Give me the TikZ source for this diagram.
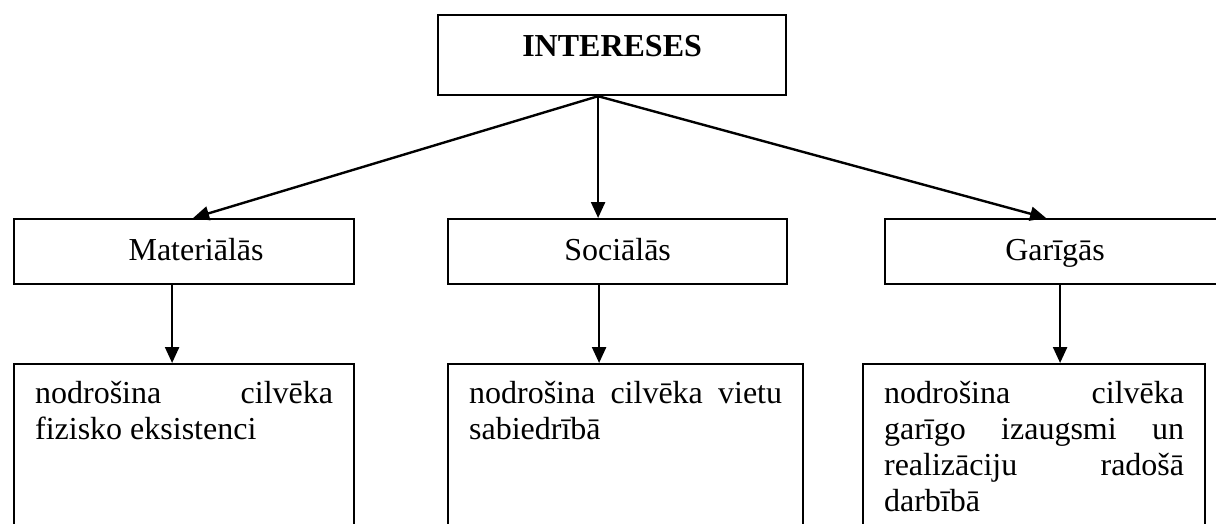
\documentclass[tikz,border=0pt]{standalone}
\usepackage{fontspec}
\setmainfont{Liberation Serif}
\usetikzlibrary{arrows.meta}
\tikzset{
  box/.style={draw, line width=1.1pt, rectangle, inner sep=0pt, anchor=north west,
    font=\fontsize{16pt}{18pt}\selectfont},
  midbox/.style={box, minimum height=32.5pt, text height=11pt, text depth=2.5pt},
  textbox/.style={box, inner xsep=10.5pt, inner ysep=0pt},
  arr/.style={line width=1.2pt, -{Triangle[length=8pt,width=7pt]}},
}
\begin{document}
\begin{tikzpicture}[x=0.5pt,y=-0.5pt]
\clip (0,0) rectangle (1216,524);
% top
\node[box, minimum width=174pt, minimum height=40pt, text height=11pt, text depth=10pt] (top) at (437,14) {\bfseries INTERESES};
% middle
\node[midbox, minimum width=170pt] (mat) at (13,218) {\hspace*{12pt}Materiālās};
\node[midbox, minimum width=169.5pt] (soc) at (447,218) {Sociālās};
\node[midbox, minimum width=170pt] (gar) at (884,218) {Garīgās};
% bottom
\node[textbox] (b1) at (13,363) {\parbox[t][100pt][t]{149pt}{%
  \makebox[\linewidth][s]{\rule{0pt}{19.5pt}nodrošina cilvēka}\\
  fizisko eksistenci}};
\node[textbox] (b2) at (447,363) {\parbox[t][100pt][t]{156.5pt}{%
  \makebox[\linewidth][s]{\rule{0pt}{19.5pt}nodrošina cilvēka vietu}\\
  sabiedrībā}};
\node[textbox] (b3) at (862,363) {\parbox[t][100pt][t]{150pt}{%
  \makebox[\linewidth][s]{\rule{0pt}{19.5pt}nodrošina cilvēka}\\
  \makebox[\linewidth][s]{garīgo izaugsmi un}\\
  \makebox[\linewidth][s]{realizāciju radošā}\\
  darbībā}};
% connectors
\coordinate (hub) at ([xshift=-7pt]top.south);
\draw[arr] (hub) -- ([xshift=4.5pt]mat.north);
\draw[arr] (hub) -- (hub |- soc.north);
\draw[arr] (hub) -- ([xshift=-4.5pt]gar.north);
\draw[arr] ([xshift=-6pt]mat.south) -- ([xshift=-6pt]mat.south |- b1.north);
\draw[arr] ([xshift=-9.25pt]soc.south) -- ([xshift=-9.25pt]soc.south |- b2.north);
\draw[arr] ([xshift=2.5pt]gar.south) -- ([xshift=2.5pt]gar.south |- b3.north);
\end{tikzpicture}
\end{document}
